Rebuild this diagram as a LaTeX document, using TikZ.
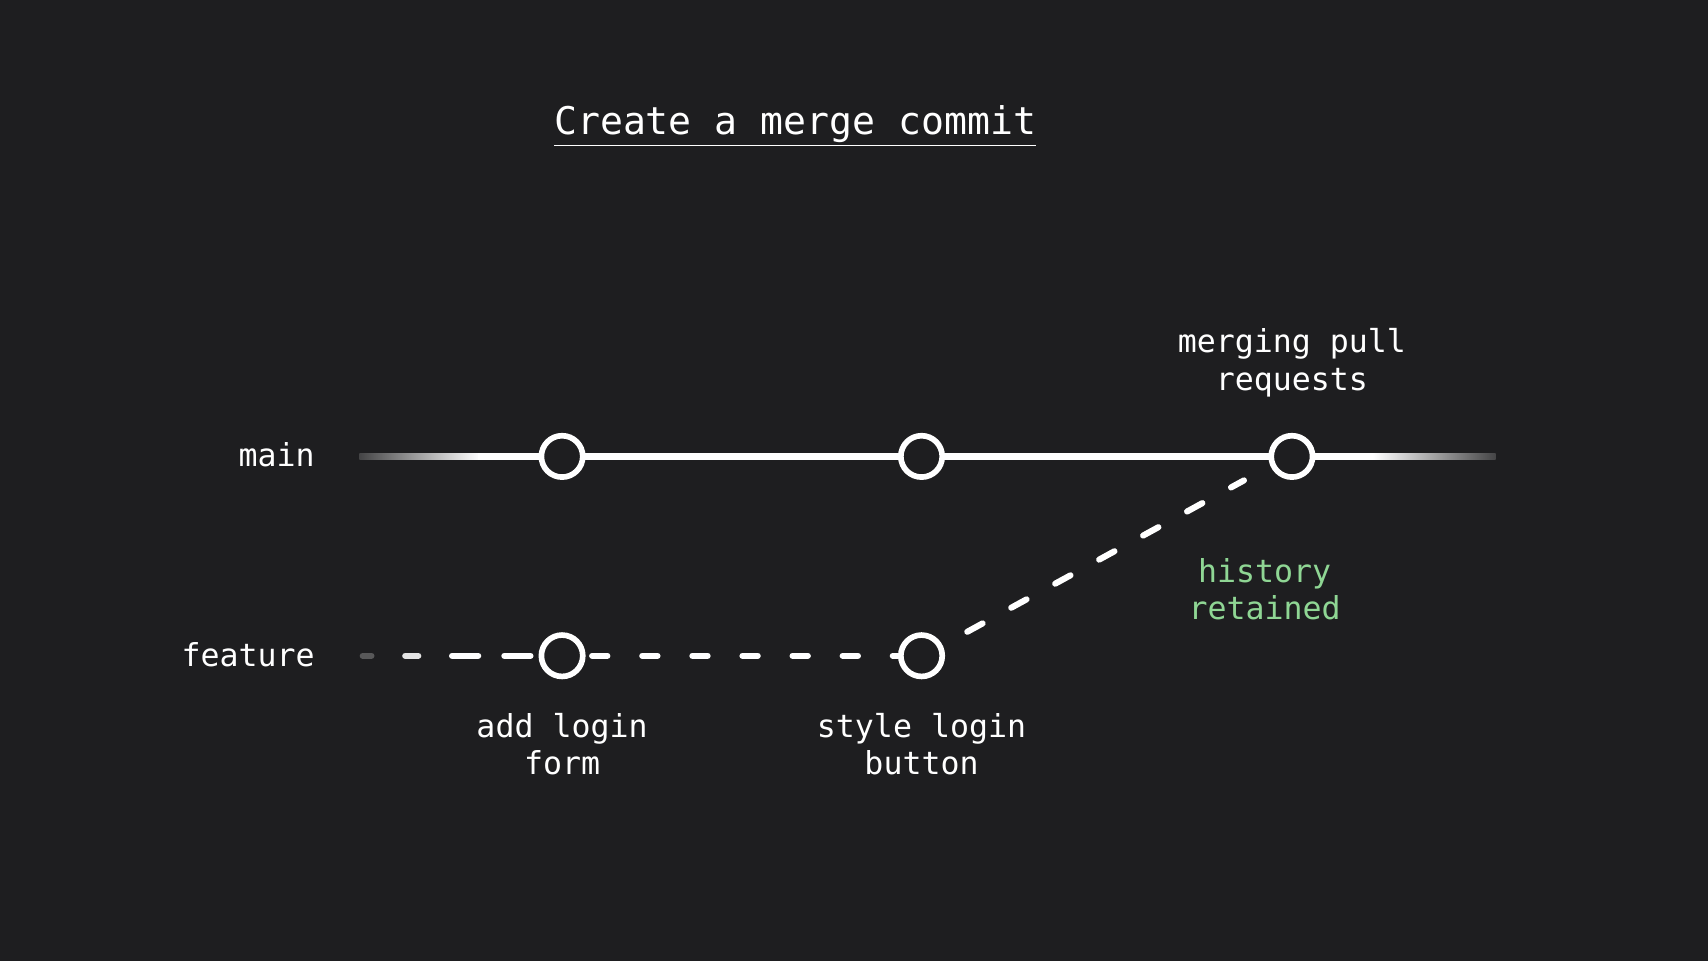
\documentclass[tikz,border=0pt]{standalone}
\usepackage{fontspec}
\usetikzlibrary{calc}
\setmonofont{DejaVu Sans Mono}
\definecolor{bg}{HTML}{1E1E20}
\definecolor{grn}{HTML}{8FD694}
\begin{document}
\begin{tikzpicture}[x=0.5pt,y=-0.5pt,
  commit/.style={circle,draw=white,line width=2.6pt,fill=bg,minimum size=19pt,inner sep=0pt},
  lbl/.style={text=white,font=\ttfamily\fontsize{14.5}{17}\selectfont,align=center},
  dsh/.style={white,line width=2.8pt,line cap=round}]
\fill[bg] (0,0) rectangle (1568,882);
\useasboundingbox (0,0) rectangle (1568,882);
\node[lbl,font=\ttfamily\fontsize{17.5}{20}\selectfont] (title) at (730,116) {\underline{Create a merge commit}};
% main line
\shade[left color=bg!60!gray,right color=white] (330,416) rectangle (440,422);
\fill[white] (439,416) rectangle (1262,422);
\shade[left color=white,right color=bg!60!gray] (1260,416) rectangle (1373,422);
\node[commit] (c1) at (516,419) {};
\node[commit] (c2) at (846,419) {};
\node[commit] (c3) at (1186,419) {};
% feature
\draw[dsh,gray!60!bg] (333,602) -- (341,602);
\draw[dsh,white!80!gray] (372,602) -- (384,602);
\coordinate (fs) at (415,602);
\node[commit] (f1) at (516,602) {};
\node[commit] (f2) at (846,602) {};
\draw[dsh,dash pattern=on 12pt off 12pt] (fs) -- (f1);
\draw[dsh,dash pattern=on 7pt off 16pt,dash phase=-3pt] (f1) -- (f2);
\coordinate (d0) at (888,580);
\coordinate (d1) at (1142,441);
\draw[dsh,dash pattern=on 8pt off 15pt] (d0) -- (d1);
\node[lbl,anchor=east] (lmain) at (296,417) {main};
\node[lbl,anchor=east] (lfeat) at (296,601) {feature};
\node[lbl] (l1) at (516,683) {add login\\form};
\node[lbl] (l2) at (846,683) {style login\\button};
\node[lbl] (l3) at (1186,333) {merging pull\\requests};
\node[lbl,text=grn] (l4) at (1161,541) {history\\retained};
\end{tikzpicture}
\end{document}
